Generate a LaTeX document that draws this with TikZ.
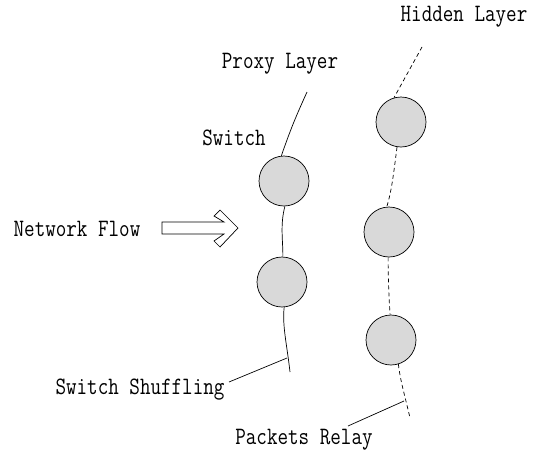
\documentclass[tikz,border=0pt]{standalone}
\newcommand{\talltxt}[1]{\scalebox{1}[1.22]{#1}}
\begin{document}
\begin{tikzpicture}[x=1pt,y=-1pt,
  sw/.style={circle,draw,fill=gray!30,minimum size=50pt,inner sep=0pt,line width=0.7pt},
  lbl/.style={font=\ttfamily\fontsize{20.5}{25}\selectfont,inner sep=0pt},
  ln/.style={line width=0.7pt},
  dl/.style={line width=0.7pt,dash pattern=on 4pt off 3pt}]
\useasboundingbox (0,0) rectangle (538,453);
% labels
\node[lbl] (hid) at (464,17) {\talltxt{Hidden Layer}};
\node[lbl] (prx) at (280,64) {\talltxt{Proxy Layer}};
\node[lbl] (swl) at (234,138) {\talltxt{Switch}};
\node[lbl] (nf) at (77,229) {\talltxt{Network Flow}};
\node[lbl] (ss) at (140,390) {\talltxt{Switch Shuffling}};
\node[lbl] (pr) at (304,440) {\talltxt{Packets Relay}};
% proxy switches
\node[sw] (p1) at (284,181) {};
\node[sw] (p2) at (282,282) {};
% hidden nodes
\node[sw] (h1) at (401,122) {};
\node[sw] (h2) at (389,232) {};
\node[sw] (h3) at (391,340) {};
% free ends
\coordinate (pt) at (307,92);
\coordinate (pb) at (290,372);
\coordinate (ptk) at (287,358);
\coordinate (ht) at (422,47);
\coordinate (hb) at (410,418);
\coordinate (htk) at (404,401);
\coordinate (ssA) at (229,382);
\coordinate (prA) at (348,426);
% proxy layer line
\draw[ln] (pt) .. controls (298,112) and (292,125) .. (p1.96);
\draw[ln] (p1.272) .. controls (280,225) and (283,240) .. (p2.88);
\draw[ln] (p2.275) .. controls (282,325) and (287,345) .. (pb);
% hidden layer dashed
\draw[dl] (ht) -- (h1.106);
\draw[dl] (h1.261) .. controls (394,170) and (392,190) .. (h2.95);
\draw[dl] (h2.268) .. controls (388,275) and (389,300) .. (h3.92);
\draw[dl] (h3.287) .. controls (400,380) and (406,400) .. (hb);
% annotation lines
\draw[ln] (ssA) -- (ptk);
\draw[ln] (prA) -- (htk);
% network flow arrow
\draw[line width=0.7pt,line join=miter]
  (162,222) -- (224,222) -- (214,216) -- (220,210) -- (238,228)
  -- (220,247) -- (214,241) -- (224,234) -- (162,234) -- cycle;
\end{tikzpicture}
\end{document}
